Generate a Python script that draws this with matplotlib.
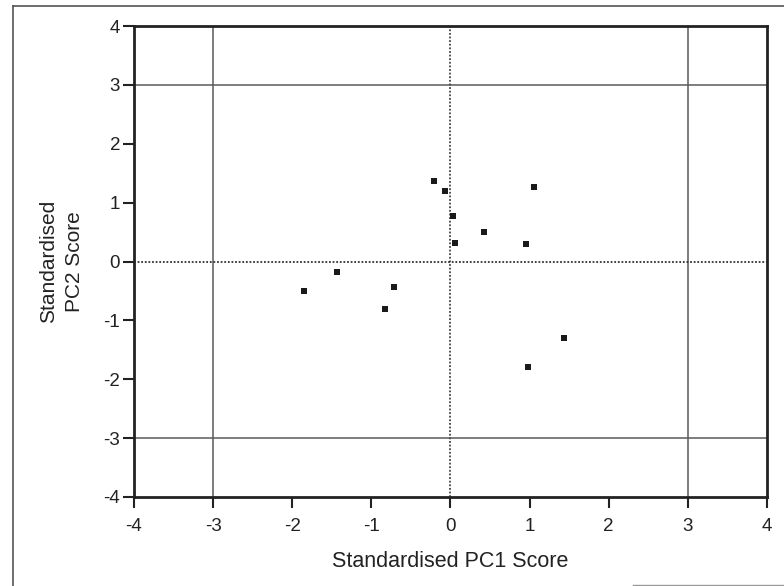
import matplotlib
matplotlib.use("Agg")
import matplotlib.pyplot as plt
from matplotlib.lines import Line2D

plt.rcParams['font.family'] = ['Liberation Sans', 'DejaVu Sans']

pc1 = [-0.21, -0.07, 0.03, 0.06, 0.42, 1.06, 0.95, 1.43, 0.98, -1.85, -1.43, -0.72, -0.83]
pc2 = [1.37, 1.20, 0.78, 0.32, 0.50, 1.27, 0.29, -1.30, -1.79, -0.50, -0.18, -0.43, -0.81]
ticks = [-4, -3, -2, -1, 0, 1, 2, 3, 4]
grid_vals = [-3, 3]

fig = plt.figure(figsize=(7.84, 5.86), dpi=100)
ax = fig.add_axes([0.1709, 0.1519, 0.8074, 0.8037])

for g in grid_vals:
    ax.axvline(g, color='#5a5a5a', lw=1.1, zorder=1)
    ax.axhline(g, color='#5a5a5a', lw=1.1, zorder=1)
ax.axvline(0, color='#444444', lw=1.3, ls=(0, (1, 1)), zorder=1)
ax.axhline(0, color='#333333', lw=1.3, ls=(0, (1, 1)), zorder=1)

ax.scatter(pc1, pc2, marker='s', s=24, color='#1a1a1a', zorder=3, linewidths=0)

ax.set_xlim(-4, 4)
ax.set_ylim(-4, 4)
ax.set_xticks(ticks)
ax.set_yticks(ticks)
ax.set_xticklabels([str(t) for t in ticks])
ax.set_yticklabels([str(t) for t in ticks])
for sp in ax.spines.values():
    sp.set_linewidth(2.0)
    sp.set_color('#222222')
ax.tick_params(axis='both', direction='out', length=8, width=1.5, color='#222222',
               labelsize=13.5, labelcolor='#222222')
ax.tick_params(axis='y', pad=2)
ax.tick_params(axis='x', pad=7)

ax.set_xlabel('Standardised PC1 Score', fontsize=15.5, color='#222222', labelpad=12)
ax.set_ylabel('Standardised\nPC2 Score', fontsize=15, color='#222222', labelpad=14,
              linespacing=1.45)

# outer frame (partial, as in scan)
fig.add_artist(Line2D([13/784, 1.0], [1-6/586, 1-6/586], transform=fig.transFigure,
                      color='#555555', lw=1.2))
fig.add_artist(Line2D([13/784, 13/784], [1-6/586, 0.0], transform=fig.transFigure,
                      color='#555555', lw=1.2))
fig.add_artist(Line2D([633/784, 1.0], [1-585/586, 1-585/586], transform=fig.transFigure,
                      color='#999999', lw=1.0))

fig.savefig('out.png', dpi=100)
